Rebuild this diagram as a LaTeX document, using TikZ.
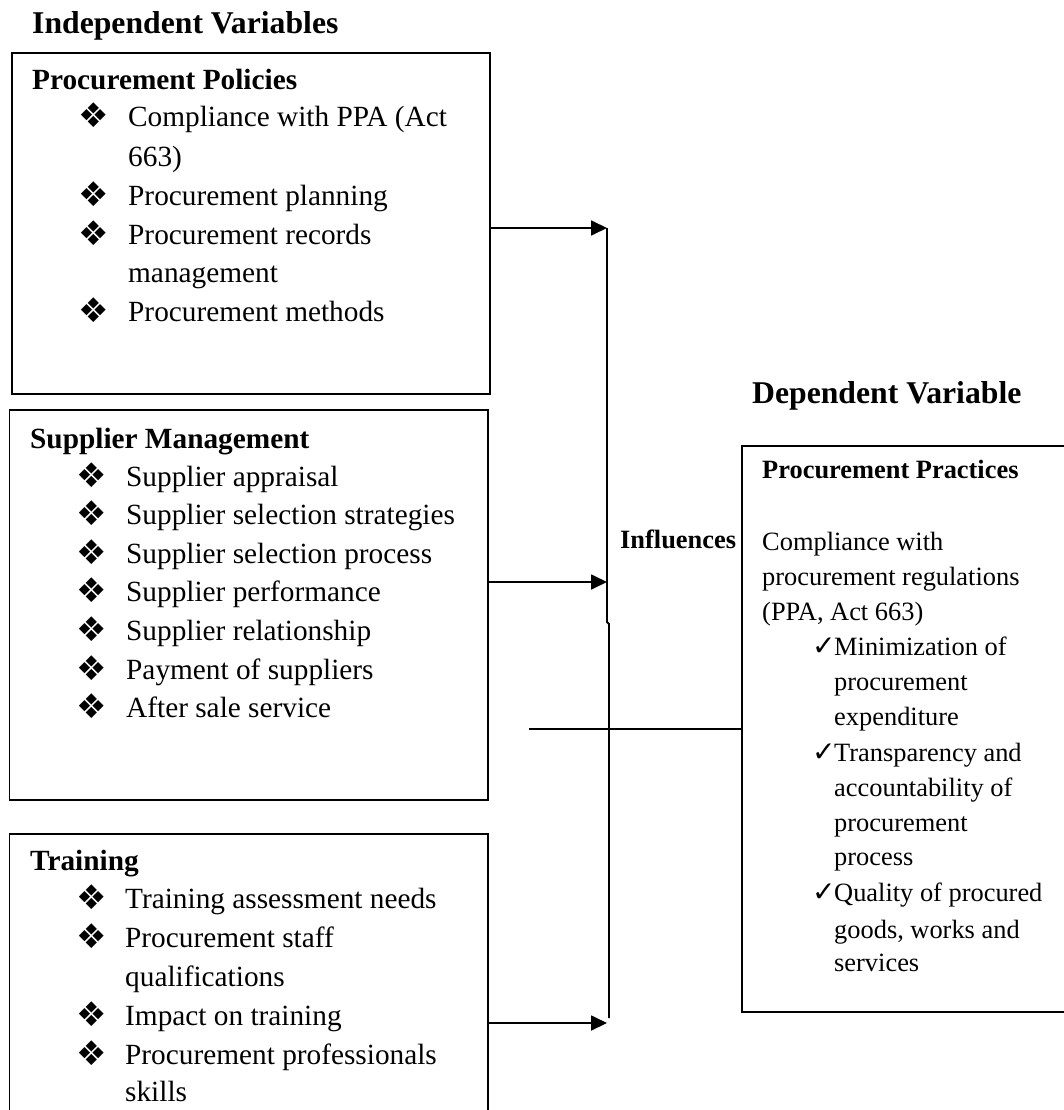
\documentclass[tikz,border=0pt]{standalone}
\usepackage{fontspec}
\setmainfont{Liberation Serif}
\newfontfamily\symfont{DejaVu Sans}
\usetikzlibrary{arrows.meta}
\tikzset{
  box/.style={draw, line width=1.8pt, inner sep=0pt, anchor=north west},
  conn/.style={line width=1.8pt},
  arr/.style={line width=1.8pt, -{Triangle[length=16pt,width=15pt]}},
  heading/.style={anchor=base west, inner sep=0pt, font=\fontsize{31.7pt}{38pt}\selectfont\bfseries},
  ltitle/.style={anchor=base west, inner sep=0pt, font=\fontsize{29.3pt}{39pt}\selectfont\bfseries},
  ltext/.style={anchor=base west, inner sep=0pt, font=\fontsize{29.3pt}{39pt}\selectfont},
  rtitle/.style={anchor=base west, inner sep=0pt, font=\fontsize{26.4pt}{35pt}\selectfont\bfseries},
  rtext/.style={anchor=base west, inner sep=0pt, font=\fontsize{26.4pt}{35pt}\selectfont},
  bul/.style={anchor=base west, inner sep=0pt, font=\symfont\fontsize{34pt}{40pt}\selectfont},
  chk/.style={anchor=base west, inner sep=0pt, font=\symfont\fontsize{28pt}{32pt}\selectfont},
}
\begin{document}
\begin{tikzpicture}[x=1pt,y=-1pt]
\useasboundingbox (0,0) rectangle (1063,1110);

% headings
\node[heading] (hind) at (32,33.3) {Independent Variables};
\node[heading] (hdep) at (752,403.3) {Dependent Variable};
\node[rtitle] (infl) at (620,548) {Influences};

% boxes
\node[box, minimum width=478pt, minimum height=341pt] (b1) at (11,52) {};
\node[box, minimum width=478.5pt, minimum height=390pt] (b2) at (8.5,409) {};
\node[box, minimum width=478.5pt, minimum height=300pt] (b3) at (8.5,833) {};
\node[box, minimum width=345pt, minimum height=566pt] (rb) at (741,445) {};

% box 1
\node[ltitle] (t1) at (32,90) {Procurement Policies};
\foreach \y/\t [count=\i] in {126.7/{Compliance with PPA (Act}, 166.7/{663)}, 205.7/{Procurement planning}, 244.3/{Procurement records}, 282.7/{management}, 321.7/{Procurement methods}}
  \node[ltext] (p\i) at (128,\y) {\t};
\foreach \y [count=\i] in {126.7, 205.7, 244.3, 321.7}
  \node[bul] (pb\i) at (78,\y+1) {❖};

% box 2
\node[ltitle] (t2) at (30,448.3) {Supplier Management};
\foreach \y/\t [count=\i] in {486/{Supplier appraisal}, 524.3/{Supplier selection strategies}, 563.3/{Supplier selection process}, 601.7/{Supplier performance}, 640/{Supplier relationship}, 679.3/{Payment of suppliers}, 717.3/{After sale service}}
  {\node[ltext] (s\i) at (126,\y) {\t};
   \node[bul] (sb\i) at (76,\y+1) {❖};}

% box 3
\node[ltitle] (t3) at (30,870) {Training};
\foreach \y/\t [count=\i] in {908.3/{Training assessment needs}, 947.3/{Procurement staff}, 986/{qualifications}, 1025/{Impact on training}, 1064/{Procurement professionals}, 1101.7/{skills}}
  \node[ltext] (r\i) at (125,\y) {\t};
\foreach \y [count=\i] in {908.3, 947.3, 1025, 1064}
  \node[bul] (rbul\i) at (76,\y+1) {❖};

% right box
\node[rtitle] (t4) at (762,478.3) {Procurement Practices};
\foreach \y/\t [count=\i] in {550/{Compliance with}, 585/{procurement regulations}, 620/{(PPA, Act 663)}}
  \node[rtext] (c\i) at (762,\y) {\t};
\foreach \y/\t [count=\i] in {655/{Minimization of}, 690/{procurement}, 725/{expenditure}, 761.7/{Transparency and}, 796.7/{accountability of}, 831.7/{procurement}, 865/{process}, 901.7/{Quality of procured}, 938/{goods, works and}, 971.7/{services}}
  \node[rtext] (d\i) at (834,\y) {\t};
\foreach \y [count=\i] in {655, 761.7, 901.7}
  \node[chk] (ck\i) at (812,\y) {✓};

% connectors
\coordinate (v1) at (607,228);
\coordinate (v2) at (607,582);
\coordinate (vj1) at (607,622);
\coordinate (vj2) at (609,624);
\coordinate (vend) at (609,1018);
\coordinate (v3) at (607,1023);
\coordinate (h0) at (529,729);

\draw[conn] (v1) -- (vj1) -- (vj2) -- (vend);
\draw[arr] (b1.east |- v1) -- (v1);
\draw[arr] (b2.east |- v2) -- (v2);
\draw[arr] (b3.east |- v3) -- (v3);
\draw[conn] (h0) -- (rb.west |- h0);
\end{tikzpicture}
\end{document}
